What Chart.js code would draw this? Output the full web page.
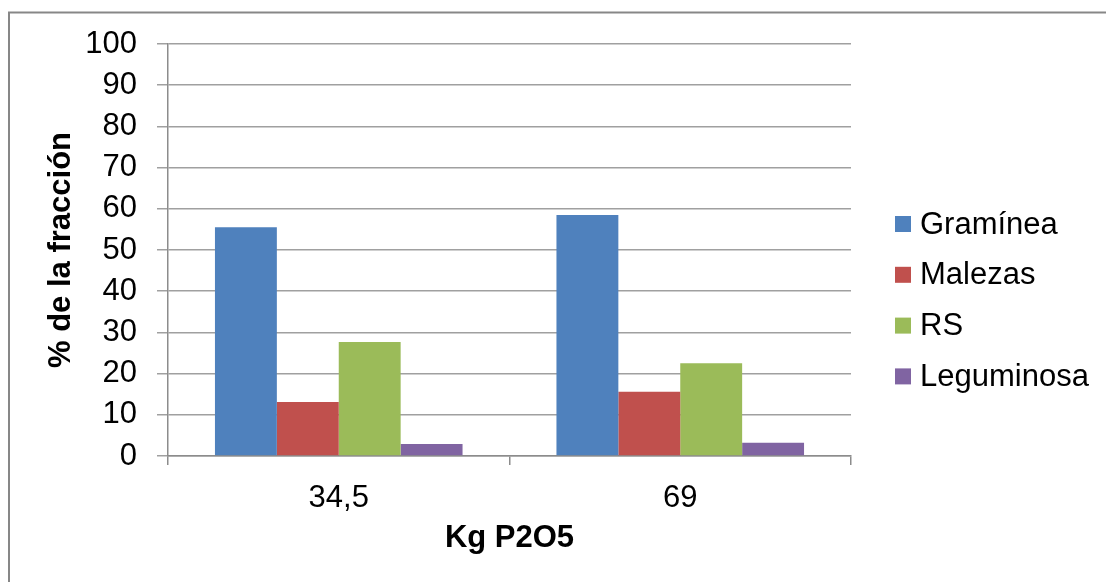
<!DOCTYPE html>
<html>
<head>
<meta charset="utf-8">
<script src="https://cdn.jsdelivr.net/npm/chart.js@4"></script>
<style>
  html, body { margin: 0; padding: 0; background: #ffffff; }
  #wrap { width: 1106px; height: 582px; }
</style>
</head>
<body>
<div id="wrap"><canvas id="c" width="1106" height="582"></canvas></div>
<script>
// ---- data ----
const categories = ['34,5', '69'];
const seriesNames = ['Gramínea', 'Malezas', 'RS', 'Leguminosa'];
const graminea = [55.5, 58.5];
const malezas = [13.1, 15.6];
const rs = [27.7, 22.5];
const leguminosa = [2.9, 3.2];
const yTickValues = [0, 10, 20, 30, 40, 50, 60, 70, 80, 90, 100];
const xTitle = 'Kg P2O5';
const yTitle = '% de la fracción';

const colors = ['#4F81BD', '#C0504D', '#9BBB59', '#8064A2'];
const FONT = "'Liberation Sans', Arial, sans-serif";
const FS = 31;

const frame = {
  id: 'frame',
  beforeDraw(chart) {
    const ctx = chart.ctx;
    ctx.save();
    ctx.fillStyle = '#ffffff';
    ctx.fillRect(0, 0, chart.width, chart.height);
    ctx.strokeStyle = '#878787';
    ctx.lineWidth = 2;
    ctx.strokeRect(9, 12.5, 1200, 700);
    ctx.restore();
  }
};

const sideLegend = {
  id: 'sideLegend',
  afterDraw(chart) {
    const ctx = chart.ctx;
    ctx.save();
    ctx.font = FS + 'px ' + FONT;
    ctx.textBaseline = 'middle';
    ctx.textAlign = 'left';
    chart.data.datasets.forEach((ds, i) => {
      const cy = 224 + i * 50.8;
      ctx.fillStyle = ds.backgroundColor;
      ctx.fillRect(895, cy - 8, 16, 16);
      ctx.fillStyle = '#000000';
      ctx.fillText(ds.label, 920, cy + 1);
    });
    ctx.restore();
  }
};

const seriesData = [graminea, malezas, rs, leguminosa];

new Chart(document.getElementById('c'), {
  type: 'bar',
  data: {
    labels: categories,
    datasets: seriesNames.map((name, i) => ({
      label: name,
      data: seriesData[i],
      backgroundColor: colors[i],
      borderWidth: 0,
      categoryPercentage: 0.725,
      barPercentage: 1.0
    }))
  },
  options: {
    responsive: false,
    animation: false,
    devicePixelRatio: 1,
    layout: { padding: { left: 0, top: 44, right: 255, bottom: 0 } },
    plugins: {
      legend: { display: false },
      tooltip: { enabled: false }
    },
    scales: {
      x: {
        grid: {
          display: true,
          offset: true,
          drawOnChartArea: false,
          drawTicks: true,
          tickLength: 9,
          color: '#8c8c8c',
          lineWidth: 1.5
        },
        border: { display: true, color: '#8c8c8c', width: 1.5 },
        ticks: {
          color: '#000000',
          font: { family: FONT, size: FS },
          padding: 15,
          maxRotation: 0
        },
        title: {
          display: true,
          text: xTitle,
          color: '#000000',
          font: { family: FONT, size: FS, weight: 'bold' },
          padding: { top: 0, bottom: 25 }
        },
        afterFit(scale) { scale.height = 126; }
      },
      y: {
        min: 0,
        max: 100,
        afterBuildTicks(scale) { scale.ticks = yTickValues.map(v => ({ value: v })); },
        grid: {
          color: '#a0a0a0',
          lineWidth: 1.5,
          drawTicks: true,
          tickLength: 11
        },
        border: { display: true, color: '#8c8c8c', width: 1.5 },
        ticks: {
          color: '#000000',
          font: { family: FONT, size: FS },
          padding: 20,
          autoSkip: false
        },
        title: {
          display: true,
          text: yTitle,
          color: '#000000',
          font: { family: FONT, size: FS, weight: 'bold' },
          padding: { top: 43, bottom: 0 }
        },
        afterFit(scale) { scale.width = 168; }
      }
    }
  },
  plugins: [frame, sideLegend]
});
</script>
</body>
</html>
